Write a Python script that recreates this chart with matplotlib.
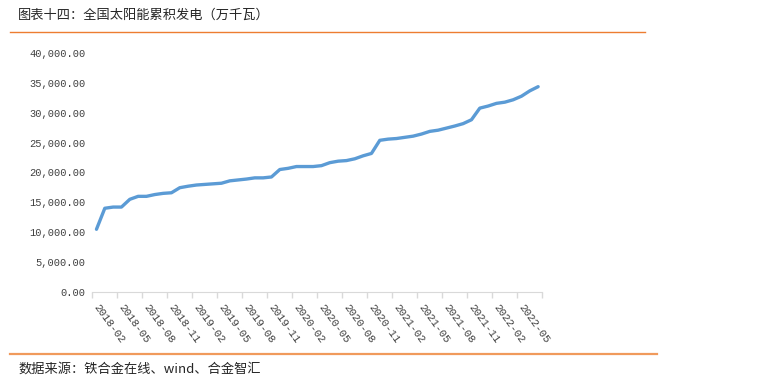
import matplotlib
matplotlib.use('Agg')
import matplotlib.pyplot as plt
from matplotlib.lines import Line2D
from matplotlib.ticker import FuncFormatter, FixedLocator

# monthly cumulative solar capacity, 2018-02 .. 2022-07 (10k kW)
months = ['2018-02', '2018-03', '2018-04', '2018-05', '2018-06', '2018-07',
          '2018-08', '2018-09', '2018-10', '2018-11', '2018-12', '2019-01',
          '2019-02', '2019-03', '2019-04', '2019-05', '2019-06', '2019-07',
          '2019-08', '2019-09', '2019-10', '2019-11', '2019-12', '2020-01',
          '2020-02', '2020-03', '2020-04', '2020-05', '2020-06', '2020-07',
          '2020-08', '2020-09', '2020-10', '2020-11', '2020-12', '2021-01',
          '2021-02', '2021-03', '2021-04', '2021-05', '2021-06', '2021-07',
          '2021-08', '2021-09', '2021-10', '2021-11', '2021-12', '2022-01',
          '2022-02', '2022-03', '2022-04', '2022-05', '2022-06', '2022-07']
capacity = [10470, 14000, 14200, 14200, 15500, 16000, 16000, 16300, 16500,
            16600, 17450, 17700, 17900, 18000, 18100, 18200, 18600, 18750,
            18900, 19100, 19100, 19250, 20500, 20700, 21000, 21000, 21000,
            21150, 21650, 21900, 22000, 22300, 22800, 23200, 25400, 25600,
            25700, 25900, 26100, 26450, 26900, 27100, 27450, 27800, 28200,
            28850, 30800, 31150, 31600, 31800, 32200, 32800, 33700, 34400]

title = '图表十四：全国太阳能累积发电（万千瓦）'
source = '数据来源：铁合金在线、wind、合金智汇'

cjk = ['Noto Sans CJK SC', 'DejaVu Sans']
num_font = 'Liberation Mono'

fig = plt.figure(figsize=(7.81, 3.83), dpi=100)
ax = fig.add_axes([92.3 / 781, 1 - 291.7 / 383, 450 / 781, 238.4 / 383])

x = list(range(len(months)))
ax.plot(x, capacity, color='#5B9BD5', linewidth=2.4, solid_capstyle='round')

ax.set_xlim(-0.5, len(months) - 0.5)
ax.set_ylim(0, 40000)
ax.set_yticks(range(0, 40001, 5000))
ax.yaxis.set_major_formatter(FuncFormatter(lambda v, p: f'{v:,.2f}'))

# tick marks on category boundaries, labels every 3 months
ax.xaxis.set_major_locator(FixedLocator([i - 0.5 for i in range(0, len(months) + 1, 3)]))
ax.xaxis.set_major_formatter(FuncFormatter(lambda v, p: ''))
ax.tick_params(axis='x', which='major', length=4, color='#D9D9D9', width=1)
ax.tick_params(axis='y', length=0, pad=5)
for lab in ax.get_yticklabels():
    lab.set_fontfamily(num_font)
    lab.set_fontsize(7.5)
    lab.set_color('#404040')

for i in range(0, len(months), 3):
    ax.text(i - 0.1, -2300, months[i], rotation=-54, rotation_mode='anchor',
            ha='left', va='center', fontsize=7.8, family=num_font, color='#404040')

for s in ['top', 'right', 'left']:
    ax.spines[s].set_visible(False)
ax.spines['bottom'].set_color('#D9D9D9')

fig.text(18 / 781, 1 - 15 / 383, title, family=cjk, fontsize=9.5,
         va='center', ha='left', color='#262626')
fig.add_artist(Line2D([10 / 781, 645 / 781], [1 - 32.3 / 383] * 2,
                      color='#ED7D31', linewidth=1.0, transform=fig.transFigure))
fig.add_artist(Line2D([10 / 781, 657 / 781], [1 - 354 / 383] * 2,
                      color='#F09A5C', linewidth=1.6, transform=fig.transFigure))
fig.text(18 / 781, 1 - 369 / 383, source, family=cjk, fontsize=9.5,
         va='center', ha='left', color='#262626')

fig.savefig('out.png', dpi=100)
